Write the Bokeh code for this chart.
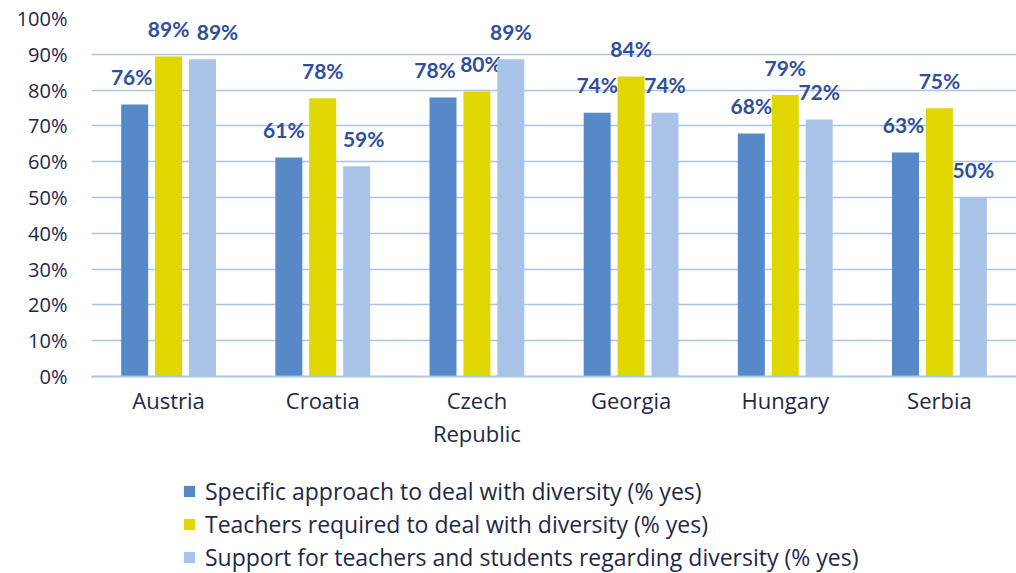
from bokeh.plotting import figure
from bokeh.layouts import column
from bokeh.models import (ColumnDataSource, FixedTicker, Legend, LegendItem,
                          Range1d, PrintfTickFormatter)
from bokeh.core.properties import value
from bokeh.embed import file_html
from bokeh.resources import INLINE

# ---- data ----
categories = ["Austria", "Croatia", "Czech\nRepublic", "Georgia", "Hungary", "Serbia"]
series_names = [
    "Specific approach to deal with diversity (% yes)",
    "Teachers required to deal with diversity (% yes)",
    "Support for teachers and students regarding diversity (% yes)",
]
specific = [76.0, 61.2, 77.9, 73.7, 67.9, 62.6]
teachers = [89.4, 77.7, 79.6, 83.8, 78.6, 74.9]
support = [88.6, 58.7, 88.6, 73.7, 71.8, 50.0]
y_ticks = [0, 10, 20, 30, 40, 50, 60, 70, 80, 90, 100]

# ---- styles ----
colors = ["#5789C8", "#E0D600", "#A8C3E7"]
label_dx = [[-3, -5, -8, 0, 0, -2], [0, 0, 4, 0, 0, 0], [15, 7, 0, 0, 0, 0]]
FONT = "Open Sans"
LABEL_FONT = "Lato"
TEXT_COLOR = "#1E2847"
LABEL_COLOR = "#2F4E9C"
bar_width = 0.175
bar_step = 0.22

p = figure(width=1016, height=460, output_backend="svg", toolbar_location=None,
           x_range=Range1d(0, len(categories)), y_range=Range1d(0, 100),
           min_border_left=91, min_border_right=0, min_border_top=18,
           min_border_bottom=84)
p.outline_line_color = None
p.background_fill_color = "white"
p.border_fill_color = "white"

# legend panel underneath (shares the same data sources, drawn off-range)
pl = figure(width=1016, height=113, output_backend="svg", toolbar_location=None,
            x_axis_type=None, y_axis_type=None,
            x_range=Range1d(-20, -19), y_range=Range1d(0, 1),
            min_border=0)
pl.outline_line_color = None
pl.border_fill_color = "white"

centers = [i + 0.5 for i in range(len(categories))]
leg_renderers = []
for k, (vals, col) in enumerate(zip([specific, teachers, support], colors)):
    xs = [c + (k - 1) * bar_step for c in centers]
    src = ColumnDataSource(dict(
        x=xs, top=vals,
        lab=[f"{int(v + 0.5)}%" for v in vals],
        dx=label_dx[k],
    ))
    p.vbar(x="x", top="top", width=bar_width, bottom=0, source=src,
           fill_color=col, line_color=None)
    p.text(x="x", y="top", text="lab", x_offset="dx", y_offset=-28, source=src,
           text_align="center", text_baseline="middle",
           text_font=value(LABEL_FONT), text_font_style="bold",
           text_font_size="21px", text_color=LABEL_COLOR)
    leg_renderers.append(
        pl.vbar(x="x", top="top", width=bar_width, bottom=0, source=src,
                fill_color=col, line_color=None))

# axes
p.xgrid.visible = False
p.ygrid.ticker = FixedTicker(ticks=y_ticks)
p.ygrid.grid_line_color = "#A9C4E8"
p.ygrid.grid_line_width = 1.6

p.yaxis.ticker = FixedTicker(ticks=y_ticks)
p.yaxis.formatter = PrintfTickFormatter(format="%d%%")
p.yaxis.axis_line_color = None
p.yaxis.major_tick_line_color = None
p.yaxis.minor_tick_line_color = None
p.yaxis.major_label_standoff = 18
p.yaxis.major_label_text_font = FONT
p.yaxis.major_label_text_font_size = "20px"
p.yaxis.major_label_text_color = TEXT_COLOR

p.xaxis.ticker = FixedTicker(ticks=centers)
p.xaxis.major_label_overrides = {c: name for c, name in zip(centers, categories)}
p.xaxis.axis_line_color = "#A9C4E8"
p.xaxis.axis_line_width = 2
p.xaxis.major_tick_line_color = None
p.xaxis.minor_tick_line_color = None
p.xaxis.major_label_standoff = 2
p.xaxis.major_label_text_font = FONT
p.xaxis.major_label_text_font_size = "22px"
p.xaxis.major_label_text_line_height = 1.1
p.xaxis.major_label_text_color = TEXT_COLOR

legend = Legend(
    items=[LegendItem(label=n, renderers=[r]) for n, r in zip(series_names, leg_renderers)],
    location=(91, 0), orientation="vertical",
    border_line_color=None, background_fill_alpha=0,
    padding=0, margin=0, spacing=0,
    label_height=33, glyph_height=14, glyph_width=14, label_standoff=9,
    label_text_font=FONT, label_text_font_size="23px",
    label_text_color=TEXT_COLOR,
)
pl.add_layout(legend)

layout = column(p, pl, spacing=0)
open("out.html", "w").write(file_html(layout, INLINE))
